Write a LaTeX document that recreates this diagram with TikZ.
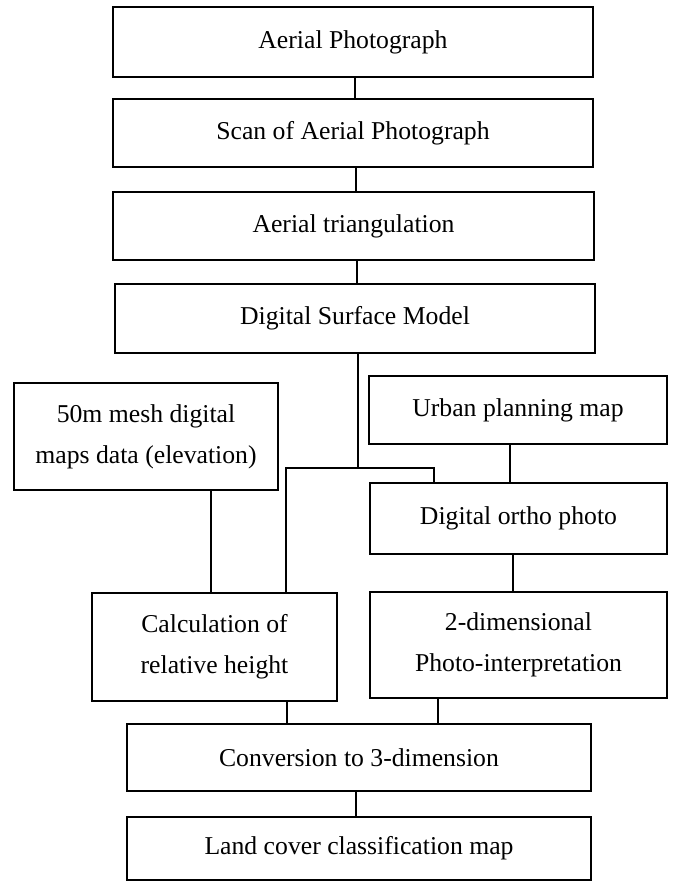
\documentclass[tikz,border=0pt]{standalone}
\usepackage{fontspec}
\setmainfont{Liberation Serif}
\begin{document}
\begin{tikzpicture}[x=1pt,y=-1pt,
  box/.style={draw, line width=2.2pt, inner sep=0pt, outer sep=0pt, align=center,
    font=\fontsize{25.7}{41}\selectfont},
  link/.style={line width=2pt}]
\fill[white] (0,0) rectangle (674,884);
\useasboundingbox (0,0) rectangle (674,884);
% boxes
\node[box, minimum width=480pt, minimum height=70pt] (b1) at (353,42) {Aerial Photograph};
\node[box, minimum width=480pt, minimum height=68pt] (b2) at (353,133) {Scan of Aerial Photograph};
\node[box, minimum width=481pt, minimum height=68pt] (b3) at (353.5,226) {Aerial triangulation};
\node[box, minimum width=480pt, minimum height=69pt] (b4) at (355,318.5) {Digital Surface Model};
\node[box, minimum width=264pt, minimum height=107pt] (mesh) at (146,436.5) {50m mesh digital\\maps data (elevation)};
\node[box, minimum width=298pt, minimum height=68pt] (urban) at (518,410) {Urban planning map};
\node[box, minimum width=297pt, minimum height=71pt] (ortho) at (518.5,518.5) {Digital ortho photo};
\node[box, minimum width=245pt, minimum height=108pt] (calc) at (214.5,647) {Calculation of\\relative height};
\node[box, minimum width=297pt, minimum height=106pt] (twod) at (518.5,645) {2-dimensional\\Photo-interpretation};
\node[box, minimum width=464pt, minimum height=67pt] (conv) at (359,757.5) {Conversion to 3-dimension};
\node[box, minimum width=464pt, minimum height=63pt] (land) at (359,848.5) {Land cover classification map};
% helper x positions
\coordinate (xa) at (355,0);
\coordinate (xb) at (356,0);
\coordinate (xc) at (357,0);
\coordinate (j) at (358,468);
\coordinate (jl) at (286,468);
\coordinate (jr) at (434,468);
\coordinate (xm) at (211,0);
\coordinate (xu) at (510,0);
\coordinate (xo) at (513,0);
\coordinate (xcl) at (287,0);
\coordinate (xt) at (438,0);
\coordinate (xv) at (356,0);
% connectors
\draw[link] (b1.south -| xa) -- (b2.north -| xa);
\draw[link] (b2.south -| xb) -- (b3.north -| xb);
\draw[link] (b3.south -| xc) -- (b4.north -| xc);
\draw[link] (b4.south -| j) -- (j);
\draw[link] (calc.north -| jl) -- (jl) -- (jr) -- (ortho.north -| jr);
\draw[link] (mesh.south -| xm) -- (calc.north -| xm);
\draw[link] (urban.south -| xu) -- (ortho.north -| xu);
\draw[link] (ortho.south -| xo) -- (twod.north -| xo);
\draw[link] (calc.south -| xcl) -- (conv.north -| xcl);
\draw[link] (twod.south -| xt) -- (conv.north -| xt);
\draw[link] (conv.south -| xv) -- (land.north -| xv);
\end{tikzpicture}
\end{document}
